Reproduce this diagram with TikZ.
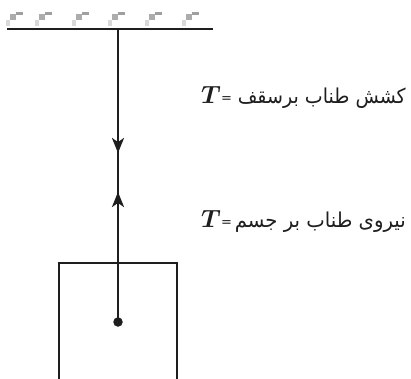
\documentclass[tikz,border=0pt]{standalone}
\usepackage{fontspec}
\usepackage{bm}
\usepackage{graphicx}
\usetikzlibrary{arrows.meta}
\TeXXeTstate=1
\newfontfamily\arabicfont[Script=Arabic]{DejaVu Sans}
\definecolor{ink}{HTML}{1E1E1E}
\tikzset{
  rope/.style={line width=2.4pt, draw=ink},
  wall/.style={line width=2.2pt, draw=ink},
  boxline/.style={line width=2pt, draw=ink},
  tip/.style={-{Stealth[length=15pt,width=12pt,inset=4pt]}},
  sym/.style={inner sep=0pt, anchor=base west, text=ink, font=\fontsize{25}{25}\selectfont},
  eqs/.style={inner sep=0pt, anchor=base west, text=ink, font=\arabicfont\fontsize{13}{13}\selectfont},
  fa/.style={inner sep=0pt, anchor=base east, text=ink, font=\arabicfont\fontsize{20.5}{20.5}\selectfont},
  hatchA/.style={fill=gray!30, draw=none},
  hatchB/.style={fill=gray!65, draw=none},
  hatchC/.style={fill=gray!75, draw=none}
}
\begin{document}
\begin{tikzpicture}[x=1pt,y=-1pt]
\useasboundingbox (0,0) rectangle (411,378);
% ceiling hatches
\foreach \h in {6,35,72,108,145,182}{
  \fill[hatchA] (\h,20) rectangle (\h+4,26);
  \fill[hatchB] (\h+4,14) rectangle (\h+10,20);
  \fill[hatchC] (\h+10,12) rectangle (\h+17,14.5);
}
% ceiling
\coordinate (ceilL) at (7,29);
\coordinate (ceilR) at (213,29);
\coordinate (ceilM) at (118,29);
\draw[wall] (ceilL) -- (ceilR);
% rope
\coordinate (tipD) at (118,153);
\coordinate (tipU) at (118,192);
\node[circle, fill=ink, inner sep=0pt, minimum size=9.5pt] (dot) at (118,322) {};
\draw[rope] (ceilM) -- (dot.center);
\draw[rope, tip] (ceilM) -- (tipD);
\draw[rope, tip] (dot.center) -- (tipU);
% body (cut off at bottom)
\coordinate (bl) at (59,380);
\coordinate (tl) at (59,263);
\coordinate (tr) at (177,263);
\coordinate (br) at (177,380);
\draw[boxline] (bl) -- (tl) -- (tr) -- (br);
% labels
\node[sym] (T1) at (201,103) {$\bm{T}$};
\node[eqs] (e1) at (221,102) {=};
\node[fa] (L1) at (406,103) {\resizebox{168pt}{\height}{\beginR کشش طناب برسقف\endR}};
\node[sym] (T2) at (201,227) {$\bm{T}$};
\node[eqs] (e2) at (221,226) {=};
\node[fa] (L2) at (406,227) {\resizebox{171pt}{\height}{\beginR نیروی طناب بر جسم\endR}};
\end{tikzpicture}
\end{document}
